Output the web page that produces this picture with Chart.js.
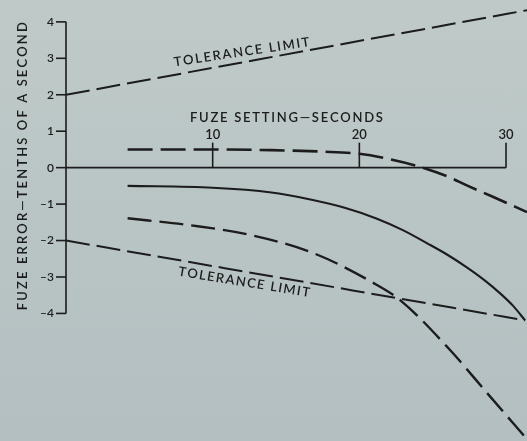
<!DOCTYPE html>
<html>
<head>
<meta charset="utf-8">
<script src="https://cdn.jsdelivr.net/npm/chart.js@4/dist/chart.umd.min.js"></script>
<style>
  html, body { margin: 0; padding: 0; }
  body {
    width: 527px; height: 441px; overflow: hidden;
    background: linear-gradient(180deg, #bfcac8 0%, #b9c5c5 50%, #b3bfc0 100%);
  }
  canvas { display: block; }
</style>
</head>
<body>
<canvas id="chart" width="527" height="441"></canvas>
<script>
// fuze setting in seconds (x) and fuze error in tenths of a second (y)
const xTicks = [10, 20, 30];
const yTicks = [4, 3, 2, 1, 0, -1, -2, -3, -4];

const upperLimitX = [0, 31.43];
const upperLimitY = [2.0, 4.32];

const lowerLimitX = [0, 31.3];
const lowerLimitY = [-2.0, -4.19];

const upperDashX = [4.2, 10, 14, 17.5, 20, 22, 24, 26, 27.4, 29.1, 31.43];
const upperDashY = [0.5, 0.5, 0.48, 0.44, 0.38, 0.24, 0.04, -0.24, -0.5, -0.8, -1.22];

const solidX = [4.2, 10, 14, 16.5, 19, 21.2, 23, 24.6, 26, 27.3, 28.5, 29.6, 30.5, 31.3];
const solidY = [-0.5, -0.55, -0.68, -0.86, -1.1, -1.4, -1.72, -2.07, -2.39, -2.73, -3.08, -3.45, -3.8, -4.19];

const lowerDashX = [4.2, 8.45, 12.5, 16.9, 20.9, 22.8, 26.2, 28.7, 31.43];
const lowerDashY = [-1.39, -1.58, -1.84, -2.35, -3.15, -3.64, -5.01, -6.18, -7.45];

const INK = '#1c1c1c';
const FONT = 'Lato, "Open Sans", sans-serif';

function pts(xs, ys) {
    return xs.map((x, i) => ({ x: x, y: ys[i] }));
}

// draw text stretched to a given width by spacing the letters
function spacedText(ctx, text, cx, cy, width, angle) {
    ctx.save();
    ctx.translate(cx, cy);
    ctx.rotate(angle);
    ctx.textAlign = 'left';
    ctx.textBaseline = 'middle';
    const chars = [...text];
    const widths = chars.map(c => ctx.measureText(c).width);
    const total = widths.reduce((a, b) => a + b, 0);
    const gap = chars.length > 1 ? (width - total) / (chars.length - 1) : 0;
    let x = -width / 2;
    chars.forEach((c, i) => {
        ctx.fillText(c, x, 0);
        x += widths[i] + gap;
    });
    ctx.restore();
}

const axesPlugin = {
    id: 'oldAxes',
    beforeDatasetsDraw(chart) {
        const ctx = chart.ctx;
        const xs = chart.scales.x;
        const ys = chart.scales.y;
        const x0 = xs.getPixelForValue(0);
        const y0 = ys.getPixelForValue(0);

        ctx.save();
        ctx.strokeStyle = INK;
        ctx.fillStyle = INK;
        ctx.lineWidth = 1.6;

        // vertical axis from -4 to 4
        ctx.beginPath();
        ctx.moveTo(x0, ys.getPixelForValue(yTicks[0]));
        ctx.lineTo(x0, ys.getPixelForValue(yTicks[yTicks.length - 1]));
        ctx.stroke();

        ctx.font = '600 12px ' + FONT;
        ctx.textAlign = 'right';
        ctx.textBaseline = 'middle';
        yTicks.forEach(v => {
            const py = ys.getPixelForValue(v);
            ctx.beginPath();
            ctx.moveTo(x0 - 10, py);
            ctx.lineTo(x0, py);
            ctx.stroke();
            ctx.fillText(v < 0 ? '\u2013' + Math.abs(v) : String(v), x0 - 12, py);
        });

        // horizontal axis along zero, ticks pointing up
        ctx.beginPath();
        ctx.moveTo(x0, y0);
        ctx.lineTo(xs.getPixelForValue(xTicks[xTicks.length - 1]), y0);
        ctx.stroke();

        ctx.font = '600 13px ' + FONT;
        ctx.textAlign = 'center';
        ctx.textBaseline = 'bottom';
        xTicks.forEach(v => {
            const px = xs.getPixelForValue(v);
            ctx.beginPath();
            ctx.moveTo(px, y0);
            ctx.lineTo(px, y0 - 25);
            ctx.stroke();
            ctx.fillText(String(v), px, y0 - 26);
        });

        // titles and labels
        ctx.font = '600 13px ' + FONT;
        spacedText(ctx, 'FUZE SETTING\u2014SECONDS',
            xs.getPixelForValue(15.03), ys.getPixelForValue(1.36), 193, 0);
        spacedText(ctx, 'FUZE ERROR\u2014TENTHS OF A SECOND',
            23, ys.getPixelForValue(0.04), 288, -Math.PI / 2);
        spacedText(ctx, 'TOLERANCE LIMIT',
            xs.getPixelForValue(11.97), ys.getPixelForValue(3.17), 137, -8.5 * Math.PI / 180);
        spacedText(ctx, 'TOLERANCE LIMIT',
            xs.getPixelForValue(12.14), ys.getPixelForValue(-3.14), 133, 9.25 * Math.PI / 180);
        ctx.restore();
    }
};

function line(data, dash, width) {
    return {
        data: data,
        showLine: true,
        borderColor: INK,
        borderWidth: width,
        borderDash: dash,
        pointRadius: 0,
        cubicInterpolationMode: 'monotone',
        fill: false
    };
}

new Chart(document.getElementById('chart'), {
    type: 'scatter',
    data: {
        datasets: [
            line(pts(upperLimitX, upperLimitY), [24, 7], 2),
            line(pts(lowerLimitX, lowerLimitY), [24, 7], 2),
            line(pts(upperDashX, upperDashY), [25, 8], 2.6),
            line(pts(solidX, solidY), [], 2.1),
            line(pts(lowerDashX, lowerDashY), [24, 8], 2.4)
        ]
    },
    options: {
        responsive: false,
        animation: false,
        layout: { padding: { left: 66, right: 0, top: 0, bottom: 0 } },
        plugins: {
            legend: { display: false },
            tooltip: { enabled: false }
        },
        scales: {
            x: { type: 'linear', min: 0, max: 31.43, display: false },
            y: { type: 'linear', min: -7.5, max: 4.6, display: false }
        }
    },
    plugins: [axesPlugin]
});
</script>
</body>
</html>
